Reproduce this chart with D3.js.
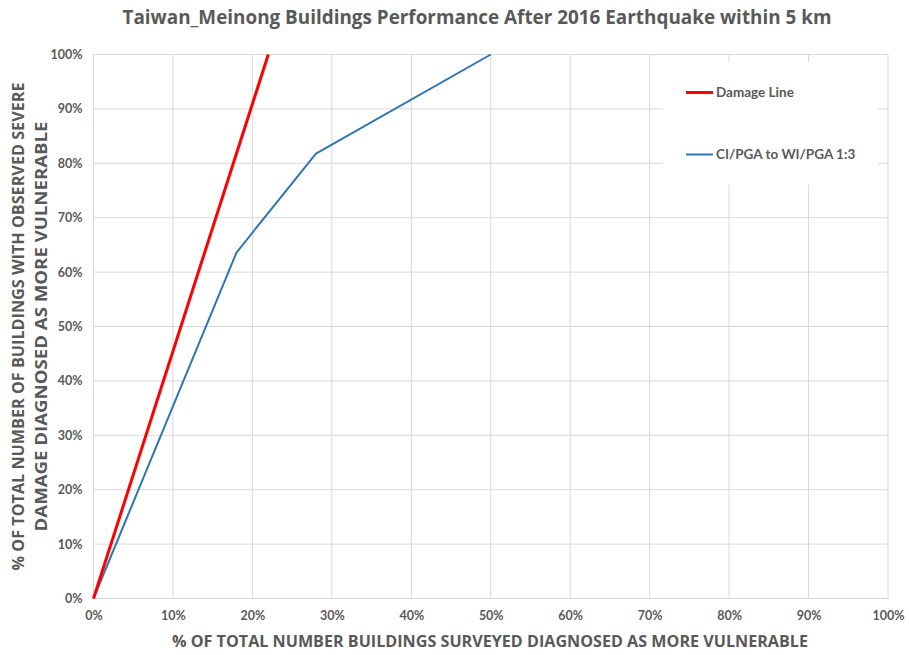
<!DOCTYPE html>
<html>
<head>
<meta charset="utf-8">
<script src="https://cdn.jsdelivr.net/npm/d3@7"></script>
<style>
  html, body { margin: 0; padding: 0; background: #fff; }
  svg { display: block; font-family: "Open Sans", "Noto Sans", sans-serif; }
</style>
</head>
<body>
<svg id="chart" width="909" height="655"></svg>
<script>
// Percent of surveyed buildings diagnosed as more vulnerable (x) vs
// percent of severely damaged buildings captured (y)
const damageLineX = [0, 22];
const damageLineY = [0, 100];
const ciPgaX = [0, 18, 28, 50];
const ciPgaY = [0, 63.6, 81.8, 100];
const xTicks = [0, 10, 20, 30, 40, 50, 60, 70, 80, 90, 100];
const yTicks = [0, 10, 20, 30, 40, 50, 60, 70, 80, 90, 100];
const seriesNames = ["Damage Line", "CI/PGA to WI/PGA 1:3"];
const seriesColors = ["#ff0000", "#2e75b6"];

const svg = d3.select("#chart");
const margin = { left: 93.5, right: 21, top: 54.5, bottom: 56.5 };
const W = 909, H = 655;
const x = d3.scaleLinear().domain([0, 100]).range([margin.left, W - margin.right]);
const y = d3.scaleLinear().domain([0, 100]).range([H - margin.bottom, margin.top]);
const textCol = "#595959";
const gridCol = "#d9d9d9";

// gridlines
const grid = svg.append("g");
grid.selectAll("line.v").data(xTicks).join("line")
  .attr("x1", d => x(d)).attr("x2", d => x(d))
  .attr("y1", y(0)).attr("y2", y(100))
  .attr("stroke", gridCol).attr("stroke-width", 1);
grid.selectAll("line.h").data(yTicks).join("line")
  .attr("x1", x(0)).attr("x2", x(100))
  .attr("y1", d => y(d)).attr("y2", d => y(d))
  .attr("stroke", gridCol).attr("stroke-width", 1);

// axes (labels only; the gridlines act as axis lines)
const fmt = d => d + "%";
const xAxis = svg.append("g").attr("transform", `translate(0,${y(0)})`)
  .call(d3.axisBottom(x).tickValues(xTicks).tickFormat(fmt).tickSize(0).tickPadding(13));
const yAxis = svg.append("g").attr("transform", `translate(${x(0)},0)`)
  .call(d3.axisLeft(y).tickValues(yTicks).tickFormat(fmt).tickSize(0).tickPadding(11));
[xAxis, yAxis].forEach(a => {
  a.select(".domain").remove();
  a.selectAll("text").attr("fill", textCol).attr("font-size", 12.5).attr("font-weight", 700)
    .attr("font-family", "Lato, 'Open Sans', sans-serif");
});

// series
const line = d3.line().x(d => x(d[0])).y(d => y(d[1]));
svg.append("path")
  .datum(ciPgaX.map((v, i) => [v, ciPgaY[i]]))
  .attr("d", line).attr("fill", "none")
  .attr("stroke", seriesColors[1]).attr("stroke-width", 2).attr("stroke-linejoin", "round");
svg.append("path")
  .datum(damageLineX.map((v, i) => [v, damageLineY[i]]))
  .attr("d", line).attr("fill", "none")
  .attr("stroke", seriesColors[0]).attr("stroke-width", 3).attr("stroke-linecap", "butt");

// legend
const lg = svg.append("g");
lg.append("rect").attr("x", 663).attr("y", 62).attr("width", 215).attr("height", 123).attr("fill", "#fff");
const legendY = [92.5, 154.5];
seriesNames.forEach((name, i) => {
  lg.append("line").attr("x1", 686).attr("x2", 713).attr("y1", legendY[i]).attr("y2", legendY[i])
    .attr("stroke", seriesColors[i]).attr("stroke-width", i === 0 ? 3 : 2);
  lg.append("text").attr("x", 716).attr("y", legendY[i]).attr("dy", "0.35em")
    .attr("fill", textCol).attr("font-size", 13.5).attr("font-weight", 700)
    .attr("font-family", "Lato, 'Open Sans', sans-serif")
    .text(name);
});

// title
svg.append("text").attr("x", 477).attr("y", 24).attr("text-anchor", "middle")
  .attr("fill", textCol).attr("font-size", 19).attr("font-weight", 700)
  .attr("textLength", 709).attr("lengthAdjust", "spacingAndGlyphs")
  .text("Taiwan_Meinong Buildings Performance After 2016 Earthquake within 5 km");

// x axis title
svg.append("text").attr("x", 490).attr("y", 647).attr("text-anchor", "middle")
  .attr("fill", textCol).attr("font-size", 16).attr("font-weight", 700)
  .attr("textLength", 636).attr("lengthAdjust", "spacingAndGlyphs")
  .text("% OF TOTAL NUMBER BUILDINGS SURVEYED DIAGNOSED AS MORE VULNERABLE");

// y axis title (two lines)
const yt = svg.append("g").attr("transform", `translate(0,${(y(0) + y(100)) / 2}) rotate(-90)`);
yt.append("text").attr("x", 0).attr("y", 24).attr("text-anchor", "middle")
  .attr("fill", textCol).attr("font-size", 16).attr("font-weight", 700)
  .attr("textLength", 488).attr("lengthAdjust", "spacingAndGlyphs")
  .text("% OF TOTAL NUMBER OF BUILDINGS WITH OBSERVED SEVERE");
yt.append("text").attr("x", 0).attr("y", 47).attr("text-anchor", "middle")
  .attr("fill", textCol).attr("font-size", 16).attr("font-weight", 700)
  .attr("textLength", 410).attr("lengthAdjust", "spacingAndGlyphs")
  .text("DAMAGE DIAGNOSED AS MORE VULNERABLE");
</script>
</body>
</html>
